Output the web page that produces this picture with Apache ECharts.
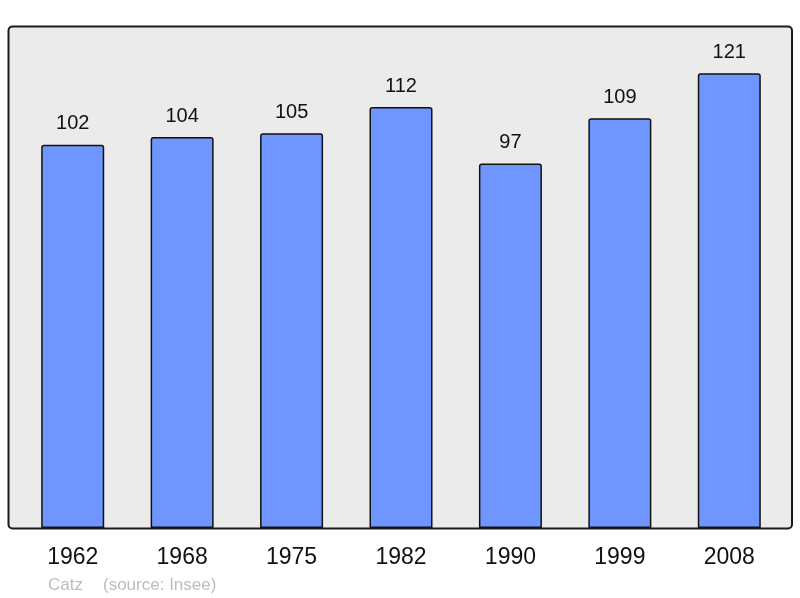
<!DOCTYPE html>
<html><head><meta charset="utf-8">
<script src="https://cdn.jsdelivr.net/npm/echarts@6/dist/echarts.min.js"></script>
<style>html,body{margin:0;padding:0;background:#fff}#c{width:800px;height:598px}</style>
</head><body><div id="c"></div>
<script>
const years = ['1962','1968','1975','1982','1990','1999','2008'];
const population = [102,104,105,112,97,109,121];
const footerName = 'Catz';
const footerSource = '(source: Insee)';

const chart = echarts.init(document.getElementById('c'), null, {renderer:'canvas'});
chart.setOption({
  animation:false,
  backgroundColor:'#ffffff',
  textStyle:{fontFamily:'Liberation Sans, Arial, sans-serif'},
  grid:{left:18, right:16, top:27, bottom:70, containLabel:false},
  graphic:[
    {type:'rect', z:-10, shape:{x:8.5,y:26.5,width:783.5,height:502,r:4},
     style:{fill:'#ebebeb', stroke:'#1a1a1a', lineWidth:2}},
    {type:'text', left:48, top:577, style:{text:footerName, fill:'#bdbdbd', font:'17px Liberation Sans, Arial, sans-serif'}},
    {type:'text', left:103, top:577, style:{text:footerSource, fill:'#bdbdbd', font:'17px Liberation Sans, Arial, sans-serif'}}
  ],
  xAxis:{type:'category', data:years,
    axisLine:{show:false}, axisTick:{show:false},
    axisLabel:{color:'#111', fontSize:23, margin:18, fontFamily:'Liberation Sans, Arial, sans-serif'}},
  yAxis:{type:'value', min:0, max:133.3, show:false, splitLine:{show:false}},
  series:[{type:'bar', data:population, barWidth:63,
    itemStyle:{color:'#6f96ff', borderColor:'#111', borderWidth:1.5, borderRadius:[2,2,0,0]},
    label:{show:true, position:'top', distance:11, color:'#111', fontSize:20, fontFamily:'Liberation Sans, Arial, sans-serif'}}]
});
</script></body></html>
